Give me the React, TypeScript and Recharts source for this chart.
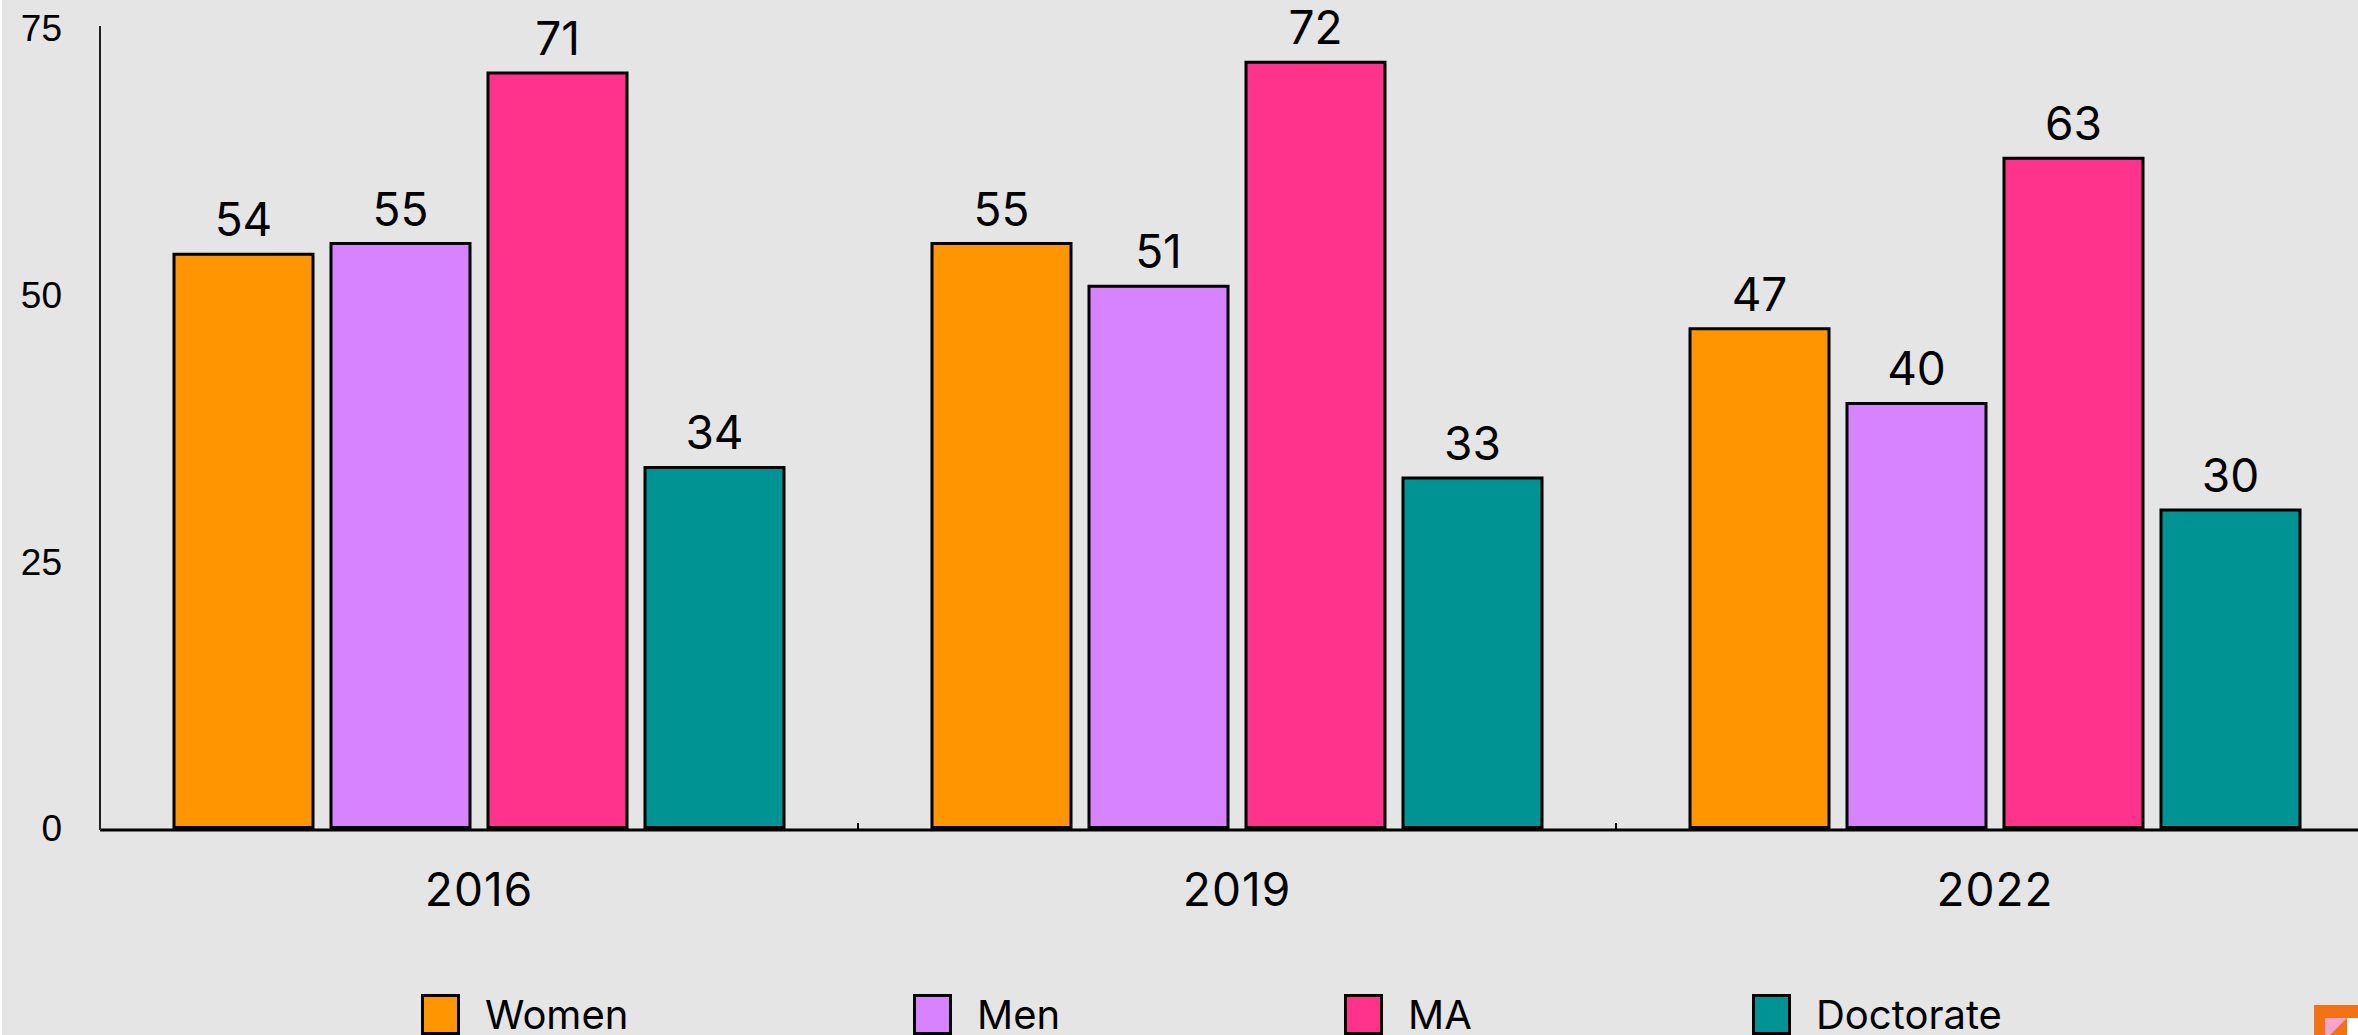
import { BarChart, Bar, XAxis, YAxis, LabelList, Rectangle } from "recharts";

const years = ["2016", "2019", "2022"];
const women = [54, 55, 47];
const men = [55, 51, 40];
const ma = [71, 72, 63];
const doctorate = [34, 33, 30];
const yTicks = [0, 25, 50, 75];

const data = years.map((year, i) => ({
  year,
  Women: women[i],
  Men: men[i],
  MA: ma[i],
  Doctorate: doctorate[i],
}));

const series = [
  { key: "Women", color: "#FF9500" },
  { key: "Men", color: "#D782FF" },
  { key: "MA", color: "#FF328C" },
  { key: "Doctorate", color: "#009393" },
];

const labelFont = "Inter, sans-serif";
const legendLefts = [421, 913, 1344, 1752];
const halfBand = 379;

const LegendRow = () => (
  <>
    {series.map((s, i) => (
      <div
        key={s.key}
        style={{
          position: "absolute",
          left: legendLefts[i],
          top: 994,
          display: "flex",
          alignItems: "center",
          fontFamily: labelFont,
          fontSize: 40,
          color: "#000",
          lineHeight: "41px",
        }}
      >
        <span
          style={{
            width: 39,
            height: 41,
            boxSizing: "border-box",
            border: "3px solid #000",
            background: s.color,
            marginRight: 25,
          }}
        />
        {s.key}
      </div>
    ))}
  </>
);

const Logo = () => (
  <svg
    style={{ position: "absolute", left: 2314, top: 1005 }}
    width={44}
    height={30}
    viewBox="0 0 44 30"
  >
    <rect width={44} height={30} fill="#F47216" />
    <polygon points="11,13 33,13 11,35" fill="#F7A3CC" />
    <rect x={33} y={13} width={11} height={17} fill="#fff" />
  </svg>
);

// label under the band, small tick on the band's right edge pointing up
const YearTick = ({ x, y, payload }: any) => (
  <g>
    <line x1={x + halfBand} x2={x + halfBand} y1={830} y2={823} stroke="#000" strokeWidth={2} />
    <text x={x} y={y} dy={46} textAnchor="middle" fill="#000" fontFamily={labelFont} fontSize={46} letterSpacing={1}>
      {payload.value}
    </text>
  </g>
);

// bars stop a little above the axis, which doubles the black line at the bottom
const BarShape = (props: any) => <Rectangle {...props} height={props.height - 2.5} />;

export default function App() {
  return (
    <div
      style={{
        position: "fixed",
        left: 0,
        top: 0,
        width: 2358,
        height: 1035,
        background: "#fff",
        overflow: "hidden",
      }}
    >
      <div
        style={{
          position: "absolute",
          left: 2,
          top: 0,
          width: 2356,
          height: 1035,
          background: "#E5E5E5",
        }}
      />
      <div style={{ position: "absolute", left: 0, top: 0 }}>
        <BarChart
          width={2374}
          height={1035}
          data={data}
          margin={{ top: 26, right: 0, left: 0, bottom: 175 }}
          barCategoryGap={74}
          barGap={18}
        >
          <XAxis
            dataKey="year"
            stroke="#000"
            strokeWidth={3}
            tickLine={false}
            tickSize={6}
            tickMargin={24}
            interval={0}
            tick={<YearTick />}
          />
          <YAxis
            width={100}
            domain={[0, 75.4]}
            ticks={yTicks}
            stroke="#222"
            strokeWidth={2}
            tickLine={false}
            tick={{ fill: "#000", fontFamily: "Liberation Sans, sans-serif", fontSize: 37, dy: -2 }}
            tickMargin={32}
          />
          {series.map((s) => (
            <Bar
              key={s.key}
              dataKey={s.key}
              fill={s.color}
              stroke="#000"
              strokeWidth={3}
              shape={BarShape}
              isAnimationActive={false}
            >
              <LabelList
                dataKey={s.key}
                position="top"
                offset={18}
                fill="#000"
                fontFamily={labelFont}
                fontSize={46}
              />
            </Bar>
          ))}
        </BarChart>
      </div>
      <LegendRow />
      <Logo />
    </div>
  );
}
